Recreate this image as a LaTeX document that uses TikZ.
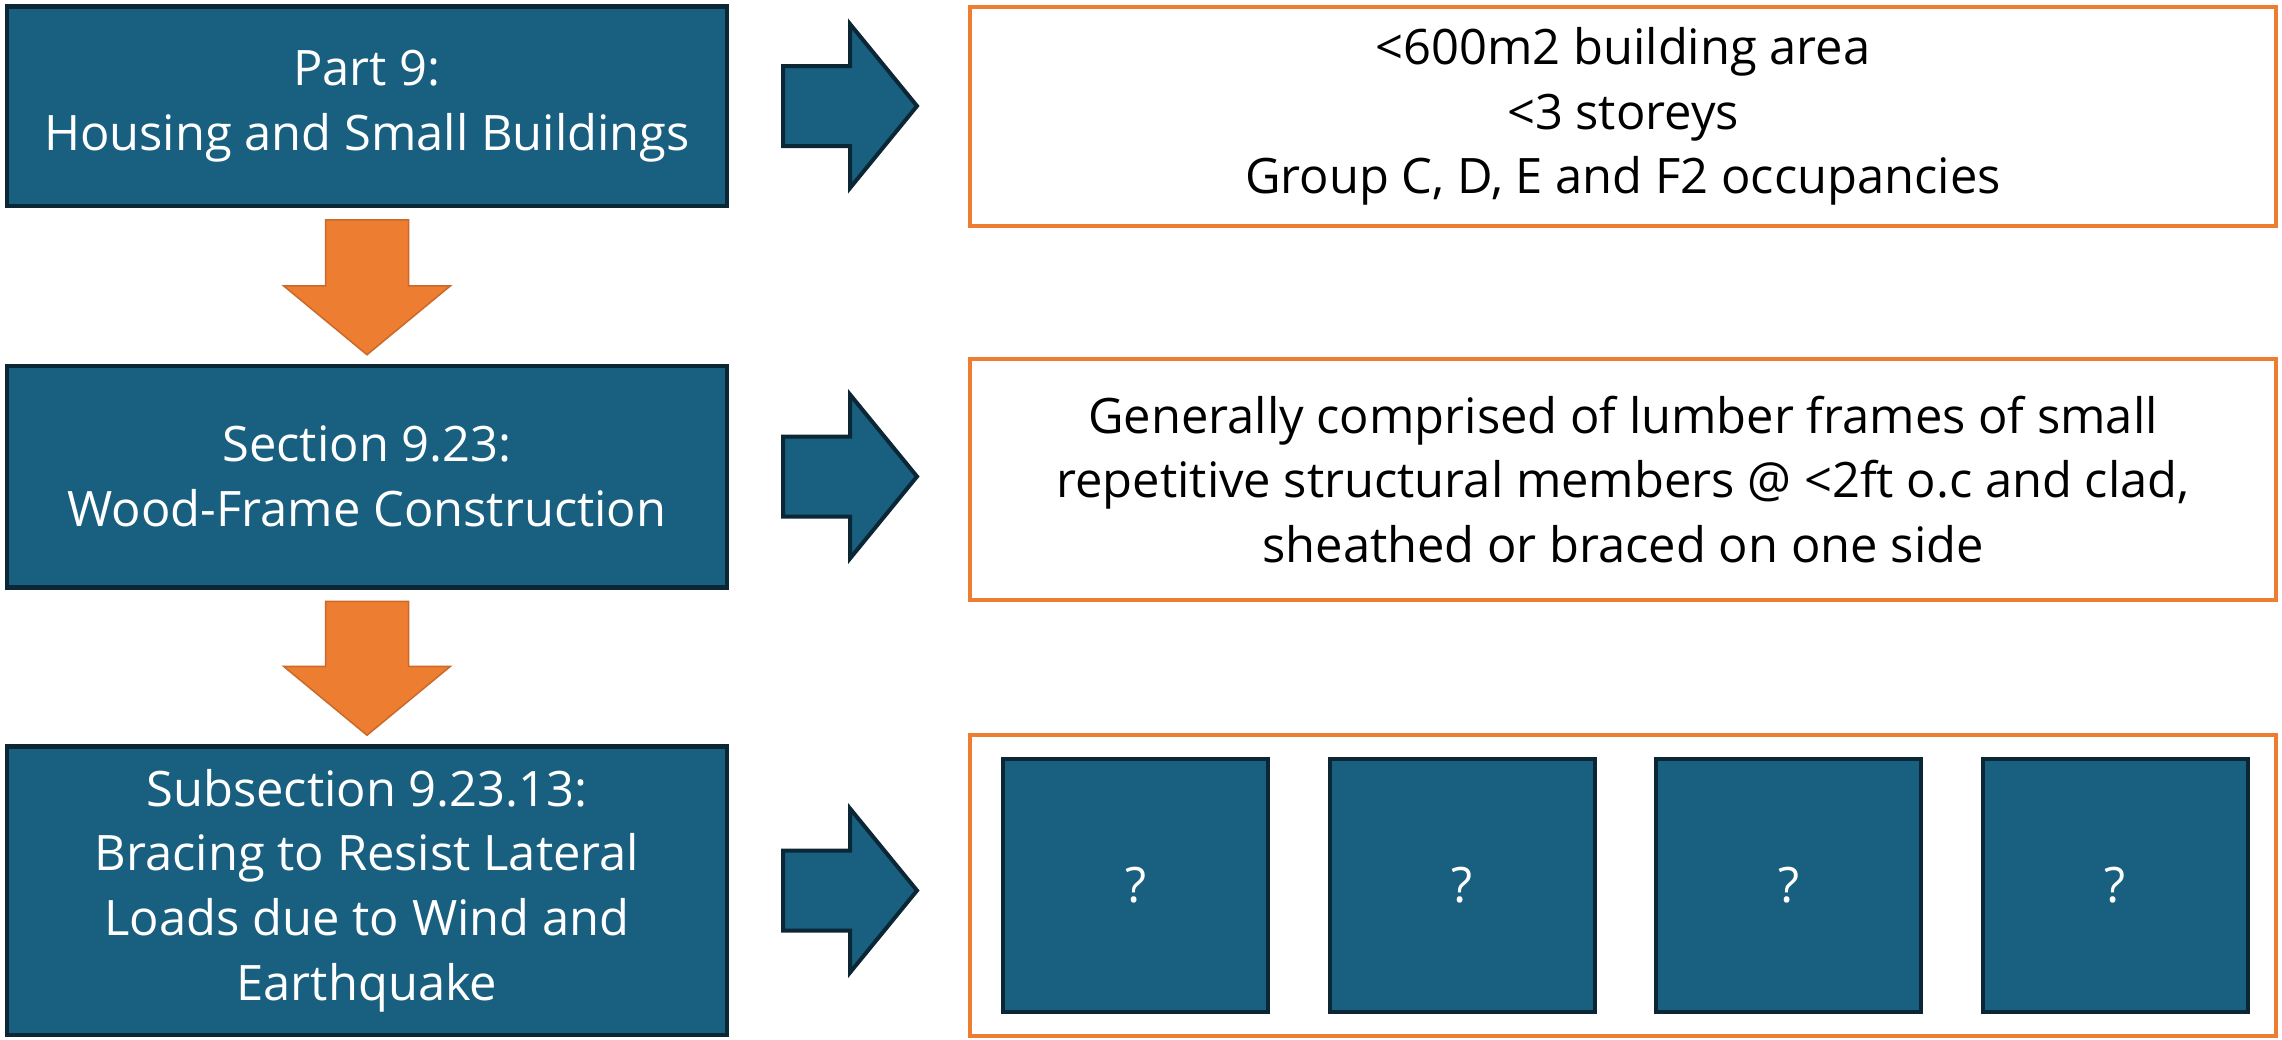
\documentclass[tikz,border=0pt]{standalone}
\usepackage{fontspec}
\setmainfont{Open Sans}
\usetikzlibrary{positioning,calc}
\definecolor{codeblue}{HTML}{185F80}
\definecolor{codeedge}{HTML}{0B2736}
\definecolor{accent}{HTML}{ED7D31}

\begin{document}
\begin{tikzpicture}[x=1mm,y=1mm,font=\fontsize{13.9}{18.4}\selectfont,
  lvl/.style={draw=codeedge,fill=codeblue,line width=0.45mm,text=white,align=center,minimum width=72mm,inner sep=0pt,outer sep=0pt},
  info/.style={draw=accent,line width=0.4mm,align=center,minimum width=130.6mm,inner sep=0pt,outer sep=0pt},
  qbox/.style={draw=codeedge,fill=codeblue,line width=0.4mm,text=white,minimum width=26.5mm,minimum height=25.3mm,inner sep=0pt,outer sep=0pt},
  downarr/.style={fill=accent,draw=accent!85!black,line width=0.15mm},
  rightarr/.style={fill=codeblue,draw=codeedge,line width=0.4mm}]
\useasboundingbox (0,0) rectangle (228.2,-103.9);
% code hierarchy
\node[lvl,minimum height=19.95mm] (part9) at (36.7,-10.6) {Part 9:\\Housing and Small Buildings};
\node[lvl,minimum height=22.15mm,below=16mm of part9] (sec923) {Section 9.23:\\Wood-Frame Construction};
\node[lvl,minimum height=28.85mm,below=15.9mm of sec923] (sub1313) {Subsection 9.23.13:\\Bracing to Resist Lateral\\Loads due to Wind and\\Earthquake};
% what each level covers
\node[info,minimum height=21.9mm] (scope) at (162.3,-11.65) {<600m2 building area\\<3 storeys\\Group C, D, E and F2 occupancies};
\node[info,minimum height=24.1mm,below=13.3mm of scope] (framing) {Generally comprised of lumber frames of small\\repetitive structural members @ <2ft o.c and clad,\\sheathed or braced on one side};
\node[info,minimum height=30.1mm,below=13.5mm of framing] (bracing) {};
\node[qbox,right=3.3mm of bracing.west] (q1) {?};
\foreach \i [remember=\i as \prev (initially 1)] in {2,3,4}
  \node[qbox,right=6.15mm of q\prev] (q\i) {?};
% block arrows
\foreach \a/\b in {part9/sec923,sec923/sub1313}
  \draw[downarr] let \p1=([yshift=-1.4mm]\a.south), \p2=([yshift=1.1mm]\b.north) in
    (\x1-4.15mm,\y1) -- (\x1+4.15mm,\y1) -- (\x1+4.15mm,\y2+6.9mm) -- (\x1+8.35mm,\y2+6.9mm)
    -- (\x1,\y2) -- (\x1-8.35mm,\y2+6.9mm) -- (\x1-4.15mm,\y2+6.9mm) -- cycle;
\foreach \a/\b in {part9/scope,sec923/framing,sub1313/bracing}
  \draw[rightarr] let \p1=([xshift=5.6mm]\a.east), \p2=([xshift=-5.3mm]\b.west) in
    (\x1,\y1+4mm) -- (\x2-6.7mm,\y1+4mm) -- (\x2-6.7mm,\y1+8.2mm) -- (\x2,\y1)
    -- (\x2-6.7mm,\y1-8.2mm) -- (\x2-6.7mm,\y1-4mm) -- (\x1,\y1-4mm) -- cycle;
\end{tikzpicture}
\end{document}
